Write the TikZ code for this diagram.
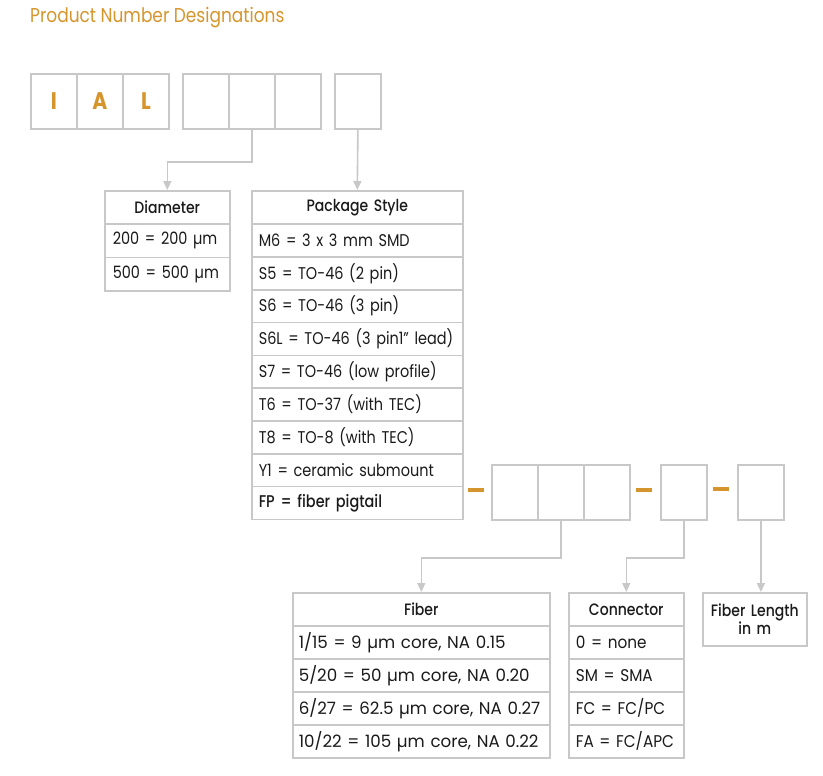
\documentclass[tikz,border=0pt]{standalone}
\usepackage{fontspec}
\setmainfont{Poppins}[FakeStretch=0.85]
\newfontfamily\medfont{Poppins}[UprightFont=* Medium, FakeStretch=0.85]
\newfontfamily\widefont{Poppins}[FakeStretch=0.98]
\newfontfamily\midfont{Poppins}[FakeStretch=0.9]
\usetikzlibrary{arrows.meta}
\definecolor{orng}{HTML}{D6952C}
\definecolor{lgray}{HTML}{C8C8C8}
\definecolor{txt}{HTML}{1A1A1A}
\begin{document}
\begin{tikzpicture}[x=1pt,y=-1pt,
  slot/.style={draw=lgray, line width=1.8pt, anchor=north west, minimum width=46pt, minimum height=55pt, inner sep=0pt, text=orng, font=\fontsize{24}{24}\selectfont\bfseries},
  cellbase/.style={draw=lgray, line width=1.6pt, anchor=north west, inner xsep=8pt, inner ysep=0pt, text=txt, font=\fontsize{17}{19}\selectfont},
  cell/.style={cellbase, align=left, minimum height=#1},
  widecell/.style={cell=#1, font=\fontsize{17}{19}\selectfont\widefont},
  midcell/.style={cell=#1, font=\fontsize{17}{19}\selectfont\midfont},
  hcell/.style={cellbase, align=center, minimum height=#1, font=\fontsize{16.5}{19}\selectfont\medfont},
  conn/.style={draw=lgray, line width=1.6pt, -{Triangle[length=9pt,width=8pt]}},
  dashmark/.style={fill=orng, minimum width=16pt, minimum height=3.6pt, inner sep=0pt},
  ttl/.style={anchor=base west, text=orng, inner sep=0pt, font=\fontsize{20}{20}\selectfont}
]
\useasboundingbox (0,0) rectangle (823,776);
\node[ttl] (title) at (30,23) {Product Number Designations};

% top row
\node[slot] (a1) at (30,73) {I};
\node[slot] (a2) at (76,73) {A};
\node[slot] (a3) at (122,73) {L};
\node[slot] (c1) at (182,73) {};
\node[slot] (c2) at (228,73) {};
\node[slot] (c3) at (274,73) {};
\node[slot] (d1) at (334,73) {};

% Diameter
\node[hcell=33.3pt, text width=109pt] (dh) at (104,190) {Diameter};
\node[cell=33.3pt, text width=109pt] (d2) at (104,223.3) {200 = 200 µm};
\node[cell=33.3pt, text width=109pt] (d3) at (104,256.6) {500 = 500 µm};

% Package style
\node[hcell=33.3pt, text width=195pt] (ph) at (251,190) {Package Style};
\node[cell=32.8pt, text width=197pt, inner xsep=7pt] (p1) at (251,223.3) {M6 = 3 x 3 mm SMD};
\node[cell=32.8pt, text width=197pt, inner xsep=7pt] (p2) at (251,256.1) {S5 = TO-46 (2 pin)};
\node[cell=32.8pt, text width=197pt, inner xsep=7pt] (p3) at (251,288.9) {S6 = TO-46 (3 pin)};
\node[cell=32.8pt, text width=197pt, inner xsep=7pt] (p4) at (251,321.7) {S6L = TO-46 (3 pin1” lead)};
\node[cell=32.8pt, text width=197pt, inner xsep=7pt] (p5) at (251,354.5) {S7 = TO-46 (low profile)};
\node[cell=32.8pt, text width=197pt, inner xsep=7pt] (p6) at (251,387.3) {T6 = TO-37 (with TEC)};
\node[cell=32.8pt, text width=197pt, inner xsep=7pt] (p7) at (251,420.1) {T8 = TO-8 (with TEC)};
\node[cell=32.8pt, text width=197pt, inner xsep=7pt] (p8) at (251,452.9) {Y1 = ceramic submount};
\node[cell=32.8pt, text width=197pt, inner xsep=7pt] (p9) at (251,485.7) {\medfont FP = fiber pigtail};

% second row
\node[dashmark] (m1) at (476,490) {};
\node[slot] (e1) at (491,464) {};
\node[slot] (e2) at (537,464) {};
\node[slot] (e3) at (583,464) {};
\node[dashmark] (m2) at (644,490) {};
\node[slot] (f1) at (660,464) {};
\node[dashmark] (m3) at (721,489) {};
\node[slot] (g1) at (737,464) {};

% Fiber
\node[hcell=33pt, text width=241pt] (fh) at (292,592) {Fiber};
\node[widecell=33pt, text width=245pt, inner xsep=6pt] (f2) at (292,625) {1/15 = 9 µm core, NA 0.15};
\node[widecell=33pt, text width=245pt, inner xsep=6pt] (f3) at (292,658) {5/20 = 50 µm core, NA 0.20};
\node[widecell=33pt, text width=245pt, inner xsep=6pt] (f4) at (292,691) {6/27 = 62.5 µm core, NA 0.27};
\node[widecell=33pt, text width=245pt, inner xsep=6pt] (f5) at (292,724) {10/22 = 105 µm core, NA 0.22};

% Connector
\node[hcell=33pt, text width=99pt] (ch) at (568,592) {Connector};
\node[midcell=33pt, text width=101pt, inner xsep=7pt] (k2) at (568,625) {0 = none};
\node[midcell=33pt, text width=101pt, inner xsep=7pt] (k3) at (568,658) {SM = SMA};
\node[midcell=33pt, text width=101pt, inner xsep=7pt] (k4) at (568,691) {FC = FC/PC};
\node[midcell=33pt, text width=101pt, inner xsep=7pt] (k5) at (568,724) {FA = FC/APC};

% Fiber length
\node[hcell=53pt, text width=90pt, inner xsep=7pt, font=\fontsize{16.5}{17}\selectfont\medfont] (fl) at (702,592) {Fiber Length\\in m};

% connectors
\draw[conn] (c2.south) -- ++(0,32) -| (dh.north);
\draw[conn] (d1.south) -- (ph.north);
\draw[conn] (e2.south) -- ++(0,37) -| (fh.north);
\draw[conn] (f1.south) -- ++(0,37) -| (ch.north);
\draw[conn] (g1.south) -- (g1.south |- fl.north);
\end{tikzpicture}
\end{document}
